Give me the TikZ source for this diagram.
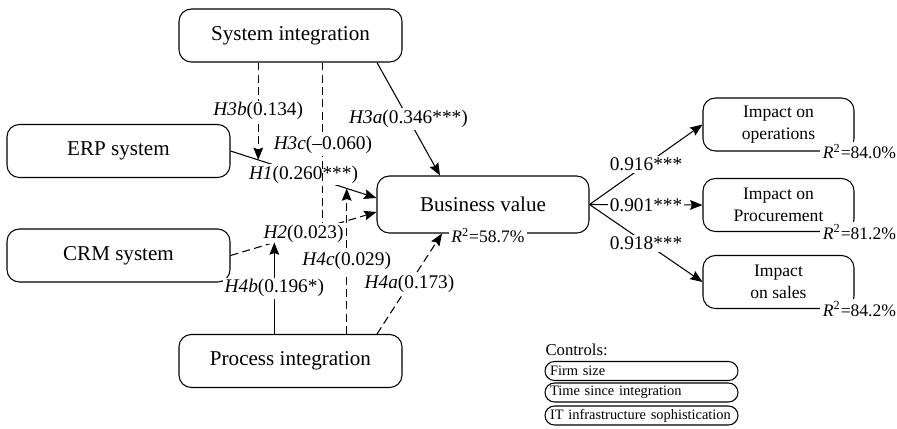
\documentclass[tikz,border=0pt]{standalone}
\usepackage{fontspec}
\setmainfont{Liberation Serif}
\usetikzlibrary{arrows.meta,calc}

\begin{document}
\begin{tikzpicture}[>={Stealth[length=7pt,width=5.5pt,inset=1pt]}, line width=0.6pt,
  box/.style={draw, rounded corners=7pt, minimum width=4.46cm, minimum height=1.06cm, font=\fontsize{12}{14}\selectfont},
  imp/.style={draw, rounded corners=7pt, minimum width=3.02cm, minimum height=1.06cm, align=center, font=\fontsize{10}{12.5}\selectfont},
  hyp/.style={fill=white, inner sep=1pt, font=\fontsize{11}{13}\selectfont},
  rsq/.style={fill=white, inner sep=1.5pt, font=\fontsize{10}{12}\selectfont},
  ctrl/.style={draw, rounded corners=0.19cm, minimum height=0.38cm, inner ysep=0pt, inner xsep=0.1cm, text width=3.66cm, align=left, font=\fontsize{8.2}{10}\selectfont},
  dsh/.style={dash pattern=on 4.5pt off 2.5pt}]
\useasboundingbox (0,0) rectangle (17.94,8.56);

% constructs
\node (si) at (5.81,7.85) [box] {System integration};
\node (erp) at (2.37,5.54) [box] {ERP system};
\node (crm) at (2.37,3.45) [box] {CRM system};
\node (pi) at (5.81,1.34) [box] {Process integration};
\node (bv) at (9.66,4.47) [box, minimum width=4.24cm, minimum height=1.14cm] {Business value};
\node (op) at (15.57,6.07) [imp] {Impact on\\operations};
\node (pr) at (15.57,4.46) [imp] {Impact on\\Procurement};
\node (sa) at (15.57,2.92) [imp] {Impact\\on sales};

% R squared
\node (bvr) at ([xshift=1mm,yshift=-0.4mm]bv.south) [rsq] {\textit{R}\textsuperscript{2}=58.7\%};
\node (opr) at ([xshift=1mm]op.south east) [rsq] {\textit{R}\textsuperscript{2}=84.0\%};
\node (prr) at ([xshift=1mm]pr.south east) [rsq] {\textit{R}\textsuperscript{2}=81.2\%};
\node (sar) at ([xshift=1mm]sa.south east) [rsq] {\textit{R}\textsuperscript{2}=84.2\%};

\coordinate (bv1) at ([yshift=1.3mm]bv.west);
\coordinate (bv2) at ([yshift=-1.5mm]bv.west);
\coordinate (h3b) at ($(erp.east)!0.19!(bv1)$);
\coordinate (h4c) at ($(erp.east)!0.796!(bv1)$);
\coordinate (h3c) at ($(crm.east)!0.633!(bv2)$);
\coordinate (h4b) at ($(crm.east)!0.30!(bv2)$);

% hypotheses
\draw[->] (erp.east) -- node[hyp] {\textit{H1}(0.260***)} (bv1);
\draw[dsh] (si.south -| h3c) -- node[hyp] {\textit{H3c}(--0.060)} (h3c);
\draw[->, dsh] (crm.east) -- node[hyp] {\textit{H2}(0.023)} (bv2);
\draw[->, dsh] (si.south -| h3b) -- node[hyp] {\textit{H3b}(0.134)} (h3b);
\draw[->] (pi.north -| h4b) -- node[hyp] {\textit{H4b}(0.196*)} (h4b);
\draw[->, dsh] (pi.north -| h4c) -- node[hyp] {\textit{H4c}(0.029)} (h4c);
\draw[->] ([xshift=1.73cm]si.south) -- node[hyp] {\textit{H3a}(0.346***)} ([xshift=-0.86cm]bv.north);
\draw[->, dsh] ([xshift=1.73cm]pi.north) -- node[hyp] {\textit{H4a}(0.173)} ([xshift=-0.82cm]bv.south);

% outcomes
\draw[->] (bv.east) -- node[hyp] {0.916***} (op.west);
\draw[->] (bv.east) -- node[hyp] {0.901***} (pr.west);
\draw[->] (bv.east) -- node[hyp] {0.918***} (sa.west);

% controls
\node (ctl) at (10.9,1.56) [anchor=west, inner sep=0pt, font=\fontsize{9.5}{11}\selectfont] {Controls:};
\node (c1) at (12.83,1.14) [ctrl] {Firm size};
\node (c2) at (12.83,0.71) [ctrl] {Time since integration};
\node (c3) at (12.83,0.25) [ctrl] {IT infrastructure sophistication};
\end{tikzpicture}
\end{document}
